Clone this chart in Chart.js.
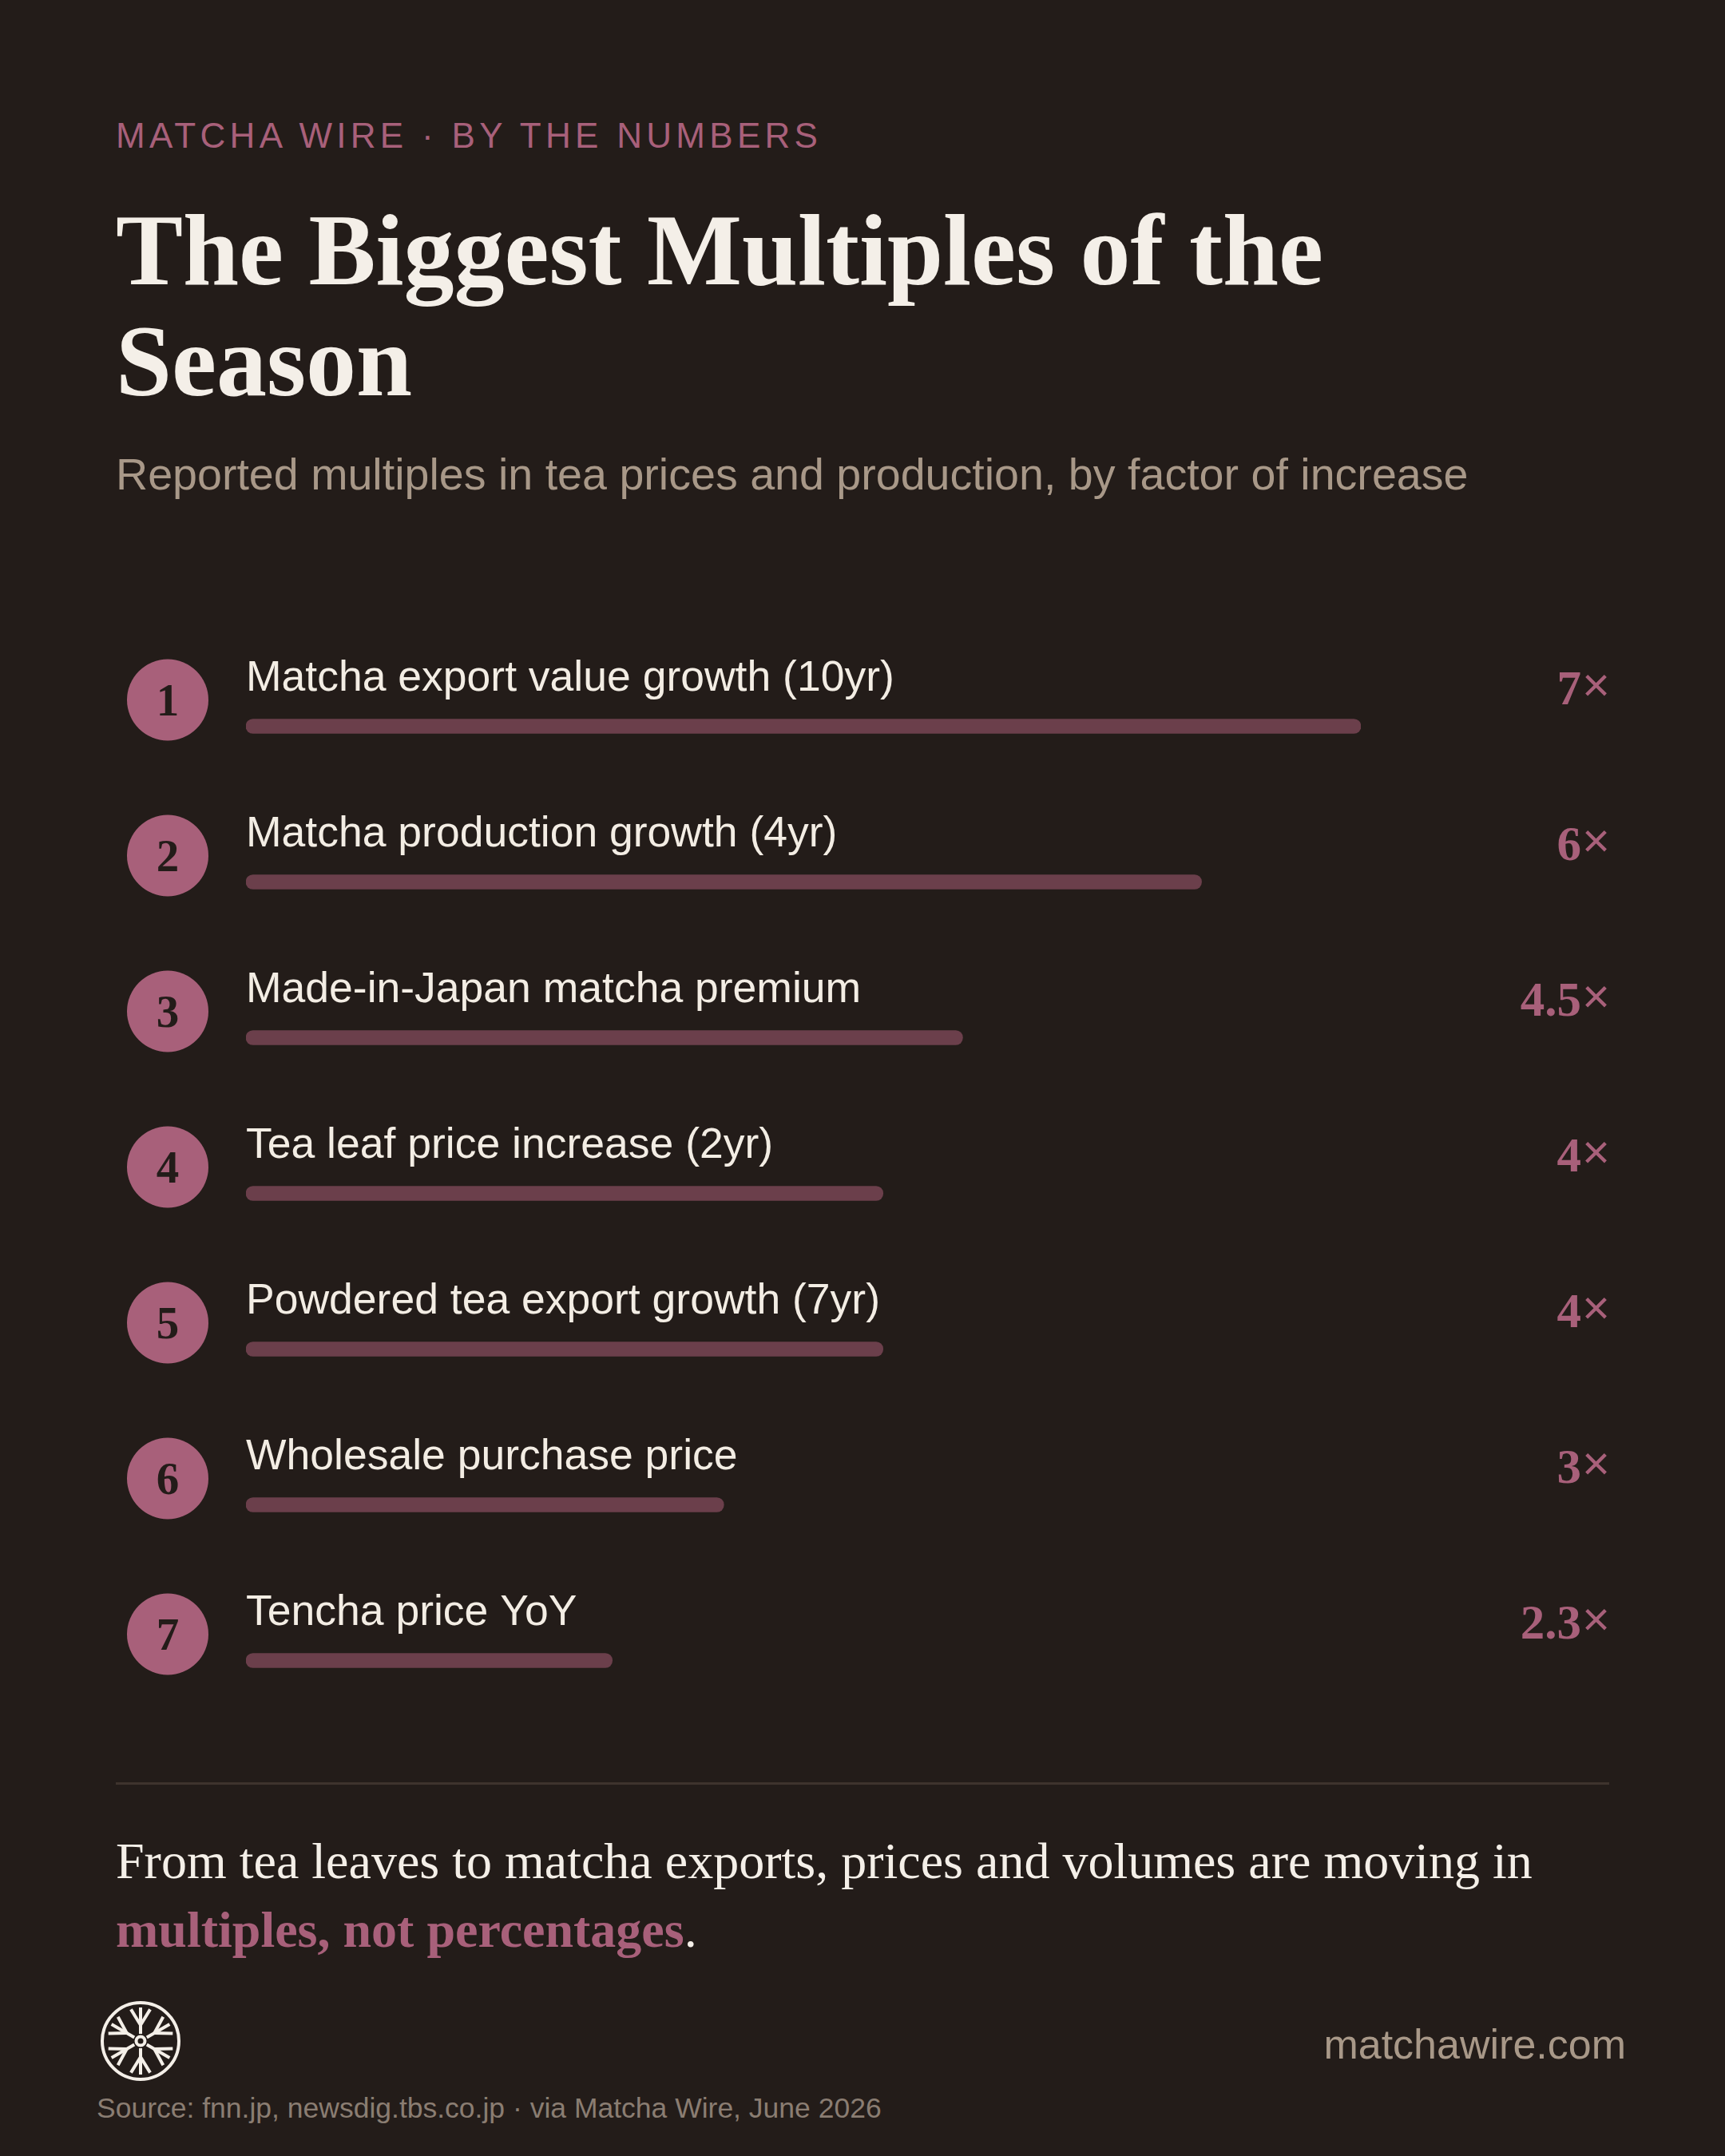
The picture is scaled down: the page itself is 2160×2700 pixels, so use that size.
<!DOCTYPE html>
<html lang="en">
<head>
  <meta charset="UTF-8" />
  <title>The Biggest Multiples of the Season</title>
  <script src="https://cdn.jsdelivr.net/npm/chart.js"></script>
  <style>
    body {
      margin: 0;
      width: 2160px;
      height: 2700px;
      background: #231c19;
      position: relative;
      overflow: hidden;
      font-family: "Liberation Sans", Arial, sans-serif;
    }
    .abs { position: absolute; white-space: nowrap; }
    .kicker {
      left: 145px; top: 148px;
      font-size: 44px; line-height: 1;
      letter-spacing: 5.3px;
      color: #a8607a;
    }
    .title {
      left: 145px; top: 244px;
      font-family: "Liberation Serif", "Times New Roman", serif;
      font-weight: bold;
      font-size: 126px; line-height: 139px;
      color: #f4efe8;
    }
    .sub {
      left: 145px; top: 567px;
      font-size: 55.6px; line-height: 1;
      color: #a89888;
    }
    #chartWrap { left: 0; top: 812px; width: 2160px; height: 1365px; }
    .rule { left: 145px; top: 2232px; width: 1870px; height: 3px; background: #3e332d; }
    .takeaway {
      left: 145px; top: 2288px;
      font-family: "Liberation Serif", "Times New Roman", serif;
      font-size: 64px; line-height: 86px;
      color: #f4efe8;
    }
    .takeaway b { color: #a8607a; }
    .site {
      right: 124px; top: 2534px;
      font-size: 52px; line-height: 1;
      color: #a89888;
    }
    .source {
      left: 121px; top: 2623px;
      font-size: 35.5px; line-height: 1;
      color: #8a7d72;
    }
    .logo { left: 121px; top: 2501px; }
  </style>
</head>
<body>
  <div class="abs kicker">MATCHA WIRE · BY THE NUMBERS</div>
  <div class="abs title">The Biggest Multiples of the<br>Season</div>
  <div class="abs sub">Reported multiples in tea prices and production, by factor of increase</div>

  <div class="abs" id="chartWrap"><canvas id="multiplesChart" width="2160" height="1365"></canvas></div>

  <div class="abs rule"></div>
  <div class="abs takeaway">From tea leaves to matcha exports, prices and volumes are moving in<br><b>multiples, not percentages</b>.</div>

  <svg class="abs logo" width="110" height="110" viewBox="-55 -55 110 110" id="logo"></svg>
  <div class="abs site">matchawire.com</div>
  <div class="abs source">Source: fnn.jp, newsdig.tbs.co.jp · via Matcha Wire, June 2026</div>

  <script>
    // data
    const categories = [
      "Matcha export value growth (10yr)",
      "Matcha production growth (4yr)",
      "Made-in-Japan matcha premium",
      "Tea leaf price increase (2yr)",
      "Powdered tea export growth (7yr)",
      "Wholesale purchase price",
      "Tencha price YoY"
    ];
    const multiples = [7, 6, 4.5, 4, 4, 3, 2.3];
    const valueLabels = ["7", "6", "4.5", "4", "4", "3", "2.3"];

    const PINK = "#a8607a";
    const BAR = "#6b3f4b";
    const CREAM = "#f3ede4";
    const BG = "#231c19";

    // little snowflake wheel logo
    (function drawLogo() {
      const svg = document.getElementById("logo");
      const st = 'stroke="#f4efe8" stroke-width="4"';
      let s = `<circle r="48" fill="none" ${st} stroke-width="4.5"/>`;
      s += `<circle r="5.5" fill="none" ${st} stroke-width="3.5"/>`;
      for (let k = 0; k < 6; k++) {
        const a = k * Math.PI / 3;
        const x1 = Math.sin(a) * 9, y1 = -Math.cos(a) * 9;
        const x2 = Math.sin(a) * 42, y2 = -Math.cos(a) * 42;
        s += `<line x1="${x1}" y1="${y1}" x2="${x2}" y2="${y2}" ${st}/>`;
        const bx = Math.sin(a) * 20, by = -Math.cos(a) * 20;
        [-0.55, 0.55].forEach(d => {
          const ex = bx + Math.sin(a + d) * 23, ey = by - Math.cos(a + d) * 23;
          s += `<line x1="${bx}" y1="${by}" x2="${ex}" y2="${ey}" ${st}/>`;
        });
      }
      svg.innerHTML = s;
    })();

    const rowDecor = {
      id: "rowDecor",
      afterDatasetsDraw(chart) {
        const ctx = chart.ctx;
        const y = chart.scales.y;
        const x = chart.scales.x;
        const left = x.getPixelForValue(0);
        ctx.save();
        categories.forEach((name, i) => {
          const cy = y.getPixelForValue(i);
          // rank badge
          ctx.beginPath();
          ctx.arc(210, cy - 33, 51, 0, Math.PI * 2);
          ctx.fillStyle = PINK;
          ctx.fill();
          ctx.fillStyle = BG;
          ctx.font = "bold 57px 'Liberation Serif', serif";
          ctx.textAlign = "center";
          ctx.textBaseline = "alphabetic";
          ctx.fillText(String(i + 1), 210, cy - 33 + 19);
          // label
          ctx.fillStyle = CREAM;
          ctx.font = "53.5px 'Liberation Sans', Arial, sans-serif";
          ctx.textAlign = "left";
          ctx.fillText(name, left, cy - 45);
          // value
          ctx.fillStyle = PINK;
          ctx.font = "60px 'Liberation Sans', Arial, sans-serif";
          ctx.textAlign = "right";
          ctx.textBaseline = "middle";
          const xw = ctx.measureText("×").width;
          ctx.fillText("×", 2016, cy - 28 - 20);
          ctx.font = "bold 61px 'Liberation Serif', serif";
          ctx.textBaseline = "alphabetic";
          ctx.fillText(valueLabels[i], 2016 - xw - 1, cy - 28);
        });
        ctx.restore();
      }
    };

    new Chart(document.getElementById("multiplesChart"), {
      type: "bar",
      data: {
        labels: categories,
        datasets: [{
          data: multiples,
          backgroundColor: BAR,
          barThickness: 18,
          borderRadius: 9,
          borderSkipped: false
        }]
      },
      options: {
        indexAxis: "y",
        responsive: false,
        animation: false,
        layout: { padding: { left: 308, right: 456, top: 0, bottom: 0 } },
        plugins: { legend: { display: false }, tooltip: { enabled: false } },
        scales: {
          x: { display: false, min: 0, max: 7 },
          y: { display: false }
        }
      },
      plugins: [rowDecor]
    });
  </script>
</body>
</html>
